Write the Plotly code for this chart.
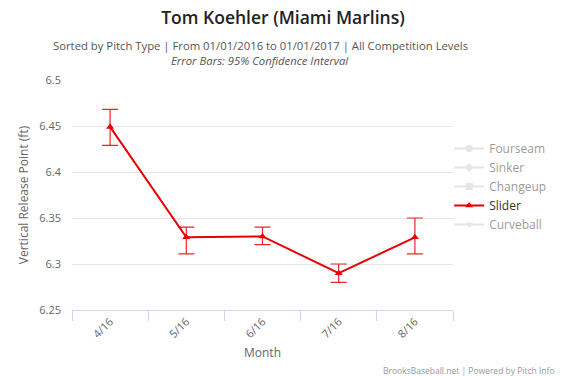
import plotly.graph_objects as go

months = ["4/16", "5/16", "6/16", "7/16", "8/16"]
slider = [6.449, 6.329, 6.33, 6.29, 6.329]
slider_hi = [6.468, 6.340, 6.340, 6.300, 6.350]
slider_lo = [6.429, 6.311, 6.321, 6.280, 6.311]
legend_names = ["Fourseam", "Sinker", "Changeup", "Slider", "Curveball"]
legend_symbols = ["circle", "diamond", "square", "triangle-up", "triangle-down"]

FONT = "Open Sans"
fig = go.Figure()

for name, sym in zip(legend_names, legend_symbols):
    if name == "Slider":
        fig.add_trace(go.Scatter(
            x=months, y=slider, name=name, mode="lines+markers",
            line=dict(color="#e60000", width=2),
            marker=dict(symbol=sym, size=7, color="#e60000"),
            error_y=dict(type="data", symmetric=False,
                         array=[h - v for h, v in zip(slider_hi, slider)],
                         arrayminus=[v - l for v, l in zip(slider, slider_lo)],
                         color="#e8252b", thickness=1.2, width=8),
        ))
    else:
        fig.add_trace(go.Scatter(
            x=months, y=[None] * len(months), name=name, mode="lines+markers",
            visible="legendonly",
            line=dict(color="#cccccc", width=2),
            marker=dict(symbol=sym, size=7, color="#cccccc"),
        ))

PT, PB = 80, 310  # plot top/bottom in pixels
def py(pix):
    return (PB - pix) / (PB - PT)

fig.update_layout(
    width=566, height=377,
    margin=dict(l=72, r=113, t=PT, b=377 - PB),
    paper_bgcolor="white", plot_bgcolor="white",
    font=dict(family=FONT, color="#666666"),
    title=dict(text="Tom Koehler (Miami Marlins)", x=0.5, xanchor="center",
               y=1 - 18 / 377, yanchor="middle",
               font=dict(size=17.5, color="#222222", family=FONT, weight=600)),
    showlegend=True,
    legend=dict(x=0.99, xanchor="left", y=py(134), yanchor="top",
                font=dict(size=12, color="#333333", family=FONT),
                bgcolor="rgba(0,0,0,0)", itemclick=False, itemdoubleclick=False,
                tracegroupgap=0),
    xaxis=dict(type="category", showgrid=False, showline=True, linecolor="#ccd6eb",
               linewidth=1, ticks="outside", tickson="boundaries", ticklen=10,
               tickcolor="#ccd6eb", tickangle=-45,
               tickfont=dict(size=11, color="#666666"),
               title=dict(text="Month", font=dict(size=12, color="#666666"), standoff=8),
               range=[-0.5, 4.5]),
    yaxis=dict(range=[6.25, 6.5], dtick=0.05, showgrid=True,
               gridcolor="#e6e6e6", gridwidth=1, zeroline=False, showline=False,
               ticklabelstandoff=10,
               tickfont=dict(size=11, color="#666666"),
               title=dict(text="Vertical Release Point (ft)",
                          font=dict(size=12, color="#666666"), standoff=8)),
    annotations=[
        dict(text="Sorted by Pitch Type | From 01/01/2016 to 01/01/2017 | All Competition Levels",
             xref="paper", yref="paper", x=(260 - 72) / 381, y=py(45),
             xanchor="center", yanchor="middle", showarrow=False,
             font=dict(size=11.3, color="#555555", family=FONT)),
        dict(text="<i>Error Bars: 95% Confidence Interval</i>",
             xref="paper", yref="paper", x=(260 - 72) / 381, y=py(60),
             xanchor="center", yanchor="middle", showarrow=False,
             font=dict(size=11.3, color="#555555", family=FONT)),
        dict(text="BrooksBaseball.net | Powered by Pitch Info",
             xref="paper", yref="paper", x=(557 - 72) / 381, y=py(370),
             xanchor="right", yanchor="middle", showarrow=False,
             font=dict(size=8.5, color="#999999", family=FONT)),
    ],
)

fig.write_html("out.html", config={"displayModeBar": False},
               post_script="document.body.style.margin='0px';")
